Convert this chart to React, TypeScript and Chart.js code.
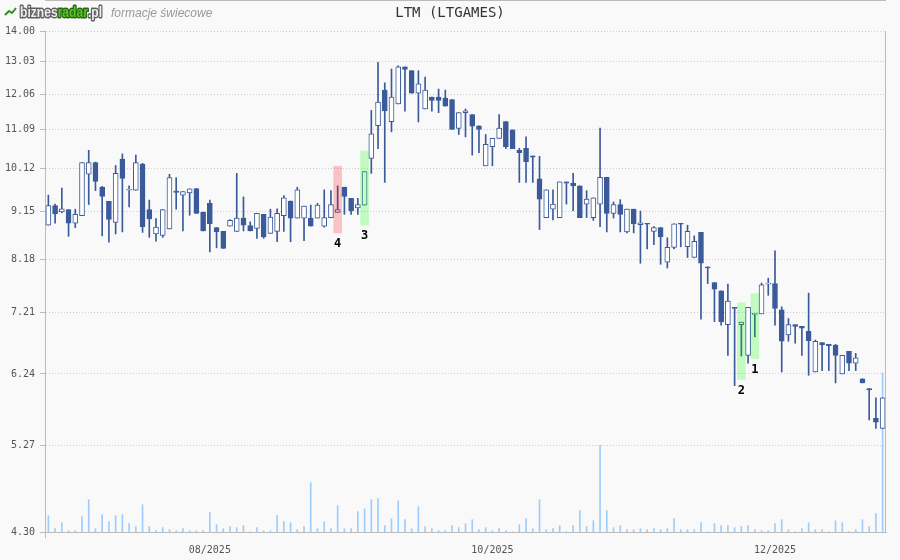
import React, { useEffect, useRef } from 'react';
import { Chart, registerables } from 'chart.js';

Chart.register(...registerables);

// ---- data (one candle per trading day, 2025-06-30 .. 2025-12-23) ----
const opens = [
  8.86, 9.28, 9.14, 9.19, 8.90, 9.06, 9.99, 10.27, 9.69, 9.37,
  8.92, 10.35, 9.62, 9.62, 10.23, 9.19, 8.68, 8.65, 8.78, 9.60,
  9.51, 9.56, 9.66, 9.14, 9.33, 8.81, 8.73, 8.84, 8.73, 9.01,
  8.85, 8.79, 9.09, 8.69, 8.73, 9.06, 9.38, 9.01, 9.01, 9.01,
  9.01, 8.84, 9.02, 9.13, 9.69, 9.44, 9.23, 9.29, 10.37, 11.20,
  12.18, 11.31, 11.79, 12.87, 12.75, 12.09, 11.65, 11.98, 11.98, 11.95,
  11.91, 11.13, 11.55, 11.50, 11.20, 10.19, 10.66, 10.87, 11.31, 11.09,
  10.57, 10.62, 10.43, 9.88, 9.02, 9.20, 9.02, 9.81, 9.78, 9.72,
  9.31, 9.02, 9.31, 9.92, 9.11, 9.30, 8.72, 9.20, 8.87, 8.90,
  8.73, 8.81, 8.12, 8.41, 8.90, 8.42, 8.21, 8.71, 8.03, 7.74,
  7.59, 7.01, 7.30, 7.01, 6.52, 7.18, 7.19, 7.71, 7.72, 7.26,
  6.84, 7.01, 6.98, 6.90, 6.27, 6.72, 6.69, 6.68, 6.24, 6.58,
  6.40, 6.17, 6.03, 5.62, 5.49,
];
const highs = [
  9.51, 9.31, 9.67, 9.19, 9.20, 10.27, 10.57, 10.28, 9.71, 9.37,
  10.20, 10.48, 9.72, 10.45, 10.25, 9.40, 9.00, 9.19, 9.99, 9.91,
  9.59, 9.65, 9.66, 9.14, 9.40, 8.81, 8.73, 8.98, 10.01, 9.47,
  8.93, 9.11, 9.09, 9.20, 9.21, 9.50, 9.38, 9.69, 9.27, 9.29,
  9.33, 9.63, 9.61, 9.72, 9.69, 9.44, 9.44, 10.05, 11.61, 13.00,
  12.39, 12.80, 12.90, 12.87, 12.75, 12.75, 12.56, 11.98, 12.21, 12.18,
  11.91, 11.55, 11.65, 11.50, 11.20, 10.97, 10.87, 11.50, 11.31, 11.09,
  10.62, 10.91, 10.43, 10.42, 9.63, 9.63, 9.81, 9.81, 10.01, 9.72,
  9.61, 9.45, 11.14, 9.92, 9.36, 9.41, 9.20, 9.20, 9.16, 8.90,
  8.83, 8.81, 8.60, 8.89, 8.90, 8.86, 8.64, 8.71, 8.03, 7.74,
  7.59, 7.71, 7.30, 7.05, 7.30, 7.20, 7.73, 7.82, 8.34, 7.31,
  7.11, 7.01, 6.98, 7.55, 6.76, 6.72, 6.69, 6.69, 6.52, 6.58,
  6.55, 6.17, 6.03, 5.90, 5.90,
];
const lows = [
  8.86, 8.90, 9.12, 8.63, 8.81, 9.06, 9.30, 9.61, 8.64, 8.51,
  8.68, 8.72, 9.25, 9.62, 8.71, 8.61, 8.53, 8.61, 8.78, 9.20,
  8.74, 9.07, 9.11, 8.74, 8.32, 8.40, 8.39, 8.84, 8.73, 8.74,
  8.74, 8.59, 8.59, 8.69, 8.52, 8.73, 8.52, 9.01, 8.54, 8.84,
  9.01, 8.82, 9.02, 9.13, 9.09, 9.09, 9.09, 9.29, 10.01, 10.61,
  9.80, 11.04, 11.79, 11.59, 12.09, 11.30, 11.65, 11.59, 11.55, 11.73,
  11.10, 10.97, 10.91, 10.45, 10.51, 10.19, 10.19, 10.87, 10.61, 10.61,
  9.80, 9.80, 9.80, 8.77, 9.02, 8.97, 9.02, 9.31, 9.17, 9.02,
  9.02, 8.96, 8.83, 8.72, 9.01, 8.72, 8.70, 8.70, 8.10, 8.38,
  8.46, 8.08, 8.01, 8.38, 8.42, 8.21, 8.21, 7.10, 7.72, 7.06,
  7.00, 6.52, 6.07, 6.51, 6.40, 6.81, 7.19, 7.51, 7.00, 6.27,
  6.74, 6.71, 6.52, 6.22, 6.27, 6.29, 6.29, 6.11, 6.24, 6.29,
  6.29, 6.11, 5.60, 5.49, 5.49,
];
const closes = [
  9.28, 9.10, 9.21, 8.90, 9.09, 10.27, 10.27, 9.82, 9.48, 8.98,
  10.01, 9.89, 9.64, 10.27, 8.83, 8.99, 8.82, 9.19, 9.91, 9.57,
  9.59, 9.65, 9.11, 8.74, 8.89, 8.72, 8.39, 8.96, 9.01, 8.86,
  8.74, 9.11, 8.62, 9.03, 9.11, 9.45, 9.01, 9.63, 9.27, 8.84,
  9.29, 9.02, 9.30, 9.19, 9.48, 9.17, 9.30, 10.05, 10.99, 11.84,
  11.60, 11.98, 12.87, 12.79, 12.09, 12.36, 12.18, 11.89, 11.89, 11.73,
  11.10, 11.55, 11.60, 11.19, 11.10, 10.72, 10.87, 11.14, 10.66, 10.61,
  10.51, 10.29, 10.40, 9.42, 9.63, 9.31, 9.81, 9.78, 9.72, 9.02,
  9.42, 9.45, 9.92, 9.11, 9.30, 9.09, 9.20, 8.89, 8.91, 8.88,
  8.81, 8.62, 8.41, 8.89, 8.88, 8.73, 8.53, 8.10, 8.01, 7.62,
  7.06, 7.41, 7.28, 7.05, 7.30, 7.20, 7.70, 7.73, 7.28, 6.74,
  7.01, 6.98, 6.95, 6.75, 6.74, 6.68, 6.67, 6.52, 6.52, 6.40,
  6.48, 6.11, 6.01, 5.57, 5.90,
];
// volume, thousands of shares
const volumes = [
  16.3, 3.3, 9.3, 1.3, 1.3, 15.3, 32.3, 3.3, 17.3, 10.3,
  16.3, 17.3, 8.3, 5.3, 27.3, 5.3, 1.3, 4.3, 2.3, 1.3,
  3.3, 1.3, 1.3, 1.3, 19.3, 7.3, 3.3, 5.3, 4.3, 6.3,
  0.3, 4.3, 1.3, 1.3, 16.3, 10.3, 9.3, 2.3, 5.3, 49.3,
  3.3, 10.3, 3.3, 26.3, 3.3, 3.3, 20.3, 23.3, 32.3, 33.3,
  6.3, 13.3, 31.3, 12.3, 3.3, 25.3, 5.3, 3.3, 1.3, 1.3,
  6.3, 4.3, 8.3, 12.3, 2.3, 4.3, 1.3, 3.3, 1.3, 0.3,
  7.3, 13.3, 3.3, 32.3, 2.3, 3.3, 6.3, 0.3, 6.3, 21.3,
  5.3, 11.3, 86.7, 21.3, 4.3, 6.3, 2.3, 2.3, 3.3, 2.3,
  3.3, 2.3, 3.3, 13.3, 2.3, 2.3, 2.3, 9.3, 0.3, 8.3,
  6.3, 6.3, 4.3, 5.3, 6.3, 2.3, 1.3, 1.3, 8.3, 12.3,
  2.3, 0.3, 3.3, 9.3, 2.3, 2.3, 0.3, 11.3, 9.3, 0.3,
  2.3, 12.3, 5.3, 18.3, 159,
];
const days = opens.map((_, i) => i);
const yTicks = [4.30, 5.27, 6.24, 7.21, 8.18, 9.15, 10.12, 11.09, 12.06, 13.03, 14.00];
const monthTicks = [
  { at: 24, label: '08/2025' },
  { at: 66, label: '10/2025' },
  { at: 108, label: '12/2025' },
];
const patterns = [
  { at: 43, low: 8.70, high: 10.18, kind: 'bear', label: '4' },
  { at: 47, low: 8.86, high: 10.55, kind: 'bull', label: '3' },
  { at: 103, low: 6.16, high: 7.38, kind: 'bull', label: '2' },
  { at: 105, low: 6.47, high: 7.54, kind: 'bull', label: '1' },
];
const titleText = 'LTM (LTGAMES)';
const subtitleText = 'formacje świecowe';

const BLUE = '#3b5a9a';
const MONO = "'DejaVu Sans Mono', monospace";
const BG = '#f9f9f9';

const monthMap: Record<number, string> = Object.fromEntries(monthTicks.map((m) => [m.at, m.label]));
const patternAt: Record<number, any> = Object.fromEntries(patterns.map((p) => [p.at, p]));

const decor = {
  id: 'decor',
  beforeDraw(chart: any) {
    const ctx = chart.ctx;
    ctx.save();
    ctx.fillStyle = BG;
    ctx.fillRect(0, 0, chart.width, chart.height);
    ctx.restore();
  },
  afterDatasetsDraw(chart: any) {
    const ctx = chart.ctx;
    const xs = chart.scales.x;
    const ys = chart.scales.y;
    ctx.save();
    ctx.font = `bold 12px ${MONO}`;
    ctx.fillStyle = '#000';
    ctx.textAlign = 'center';
    ctx.textBaseline = 'middle';
    patterns.forEach((p) => {
      ctx.fillText(p.label, xs.getPixelForValue(p.at), ys.getPixelForValue(p.low) + 11);
    });
    ctx.restore();
  },
  afterDraw(chart: any) {
    const ctx = chart.ctx;
    const a = chart.chartArea;
    ctx.save();
    ctx.strokeStyle = '#bbb';
    ctx.lineWidth = 1;
    ctx.beginPath();
    ctx.moveTo(Math.round(a.right) - 0.5, a.top);
    ctx.lineTo(Math.round(a.right) - 0.5, a.bottom);
    ctx.moveTo(a.left, 0.5);
    ctx.lineTo(Math.round(a.right), 0.5);
    ctx.moveTo(Math.round(a.left) + 0.5, a.bottom);
    ctx.lineTo(Math.round(a.left) + 0.5, a.bottom + 6);
    ctx.stroke();

    // title
    ctx.fillStyle = '#333';
    ctx.font = `14px ${MONO}`;
    ctx.textAlign = 'center';
    ctx.textBaseline = 'middle';
    ctx.fillText(titleText, chart.width / 2, 13);

    // logo icon
    ctx.strokeStyle = '#2f8f1f';
    ctx.lineWidth = 2;
    ctx.lineJoin = 'round';
    ctx.beginPath();
    ctx.moveTo(5, 15);
    ctx.lineTo(9, 11);
    ctx.lineTo(12, 13);
    ctx.lineTo(16, 8);
    ctx.stroke();

    // logo text
    const parts = [
      { t: 'biznes', fill: '#ececec', stroke: '#5f5f5f' },
      { t: 'radar', fill: '#58c22a', stroke: '#2a6414' },
      { t: '.pl', fill: '#ececec', stroke: '#5f5f5f' },
    ];
    ctx.font = "bold 15px 'Liberation Sans', Arial, sans-serif";
    ctx.textAlign = 'left';
    ctx.textBaseline = 'alphabetic';
    const total = parts.reduce((s, p) => s + ctx.measureText(p.t).width, 0);
    const sx = 82 / total;
    ctx.translate(20, 0);
    ctx.scale(sx, 1);
    let x = 0;
    ctx.lineWidth = 3;
    ctx.lineJoin = 'round';
    parts.forEach((p) => {
      ctx.strokeStyle = p.stroke;
      ctx.strokeText(p.t, x, 17);
      ctx.fillStyle = p.fill;
      ctx.fillText(p.t, x, 17);
      x += ctx.measureText(p.t).width;
    });
    ctx.setTransform(1, 0, 0, 1, 0, 0);

    ctx.fillStyle = '#999';
    ctx.font = "italic 12px 'Liberation Sans', Arial, sans-serif";
    ctx.fillText(subtitleText, 111, 17);
    ctx.restore();
  },
};

export default function App() {
  const ref = useRef<HTMLCanvasElement | null>(null);

  useEffect(() => {
    document.body.style.margin = '0';
    const canvas = ref.current;
    if (!canvas) return;
    const bodyColors = opens.map((o, i) => (closes[i] >= o ? '#ffffff' : BLUE));
    const patternColors = days.map((d) => {
      const p = patternAt[d];
      if (!p) return 'rgba(0,0,0,0)';
      return p.kind === 'bear' ? 'rgba(255,0,0,0.22)' : 'rgba(0,255,0,0.22)';
    });

    const chart = new Chart(canvas, {
      type: 'bar',
      data: {
        labels: days,
        datasets: [
          {
            label: 'patterns',
            data: days.map((d) => (patternAt[d] ? [patternAt[d].low, patternAt[d].high] : null)) as any,
            backgroundColor: patternColors,
            borderWidth: 0,
            barThickness: 8,
            grouped: false,
            order: 0,
            yAxisID: 'y',
          },
          {
            label: 'body',
            data: opens.map((o, i) => [o, closes[i]]) as any,
            backgroundColor: bodyColors,
            borderColor: BLUE,
            borderWidth: 1,
            borderSkipped: false,
            barThickness: 5,
            grouped: false,
            order: 1,
            yAxisID: 'y',
          },
          {
            label: 'wick',
            data: lows.map((l, i) => [l, highs[i]]) as any,
            backgroundColor: BLUE,
            borderWidth: 0,
            barThickness: 1,
            grouped: false,
            order: 2,
            yAxisID: 'y',
          },
          {
            label: 'volume',
            data: volumes,
            backgroundColor: '#9fcdfb',
            borderWidth: 0,
            barThickness: 1,
            grouped: false,
            order: 3,
            yAxisID: 'yv',
          },
        ],
      },
      options: {
        responsive: false,
        animation: false,
        devicePixelRatio: 1,
        layout: { padding: { top: 31, right: 14, left: 0, bottom: 0 } },
        plugins: { legend: { display: false }, tooltip: { enabled: false }, title: { display: false } },
        scales: {
          x: {
            type: 'category',
            offset: true,
            grid: { display: false, drawTicks: false },
            border: { display: true, color: '#bbb', width: 1 },
            ticks: {
              autoSkip: false,
              maxRotation: 0,
              minRotation: 0,
              padding: 12,
              color: '#555',
              font: { family: MONO, size: 10 },
              callback: (_v: any, i: number) => monthMap[i] ?? '',
            },
            afterFit: (s: any) => {
              s.height = 28;
            },
          },
          y: {
            type: 'logarithmic',
            position: 'left',
            min: 4.3,
            max: 14,
            afterBuildTicks: (s: any) => {
              s.ticks = yTicks.map((v) => ({ value: v }));
            },
            ticks: {
              autoSkip: false,
              padding: 5,
              color: '#555',
              font: { family: MONO, size: 10 },
              callback: (v: any) => Number(v).toFixed(2),
            },
            grid: { color: '#cccccc', lineWidth: 1, tickLength: 5, tickColor: '#bbb', tickBorderDash: [] },
            border: { display: true, color: '#bbb', width: 1, dash: [1, 2] },
            afterFit: (s: any) => {
              s.width = 45;
            },
          },
          yv: {
            type: 'linear',
            display: false,
            min: 0,
            max: Math.max(...volumes) * 3.15,
          },
        },
      } as any,
      plugins: [decor],
    });
    return () => chart.destroy();
  }, []);

  return (
    <div style={{ position: 'relative', width: 900, height: 560, background: BG }}>
      <canvas ref={ref} width={900} height={560} style={{ display: 'block', width: 900, height: 560 }} />
    </div>
  );
}
